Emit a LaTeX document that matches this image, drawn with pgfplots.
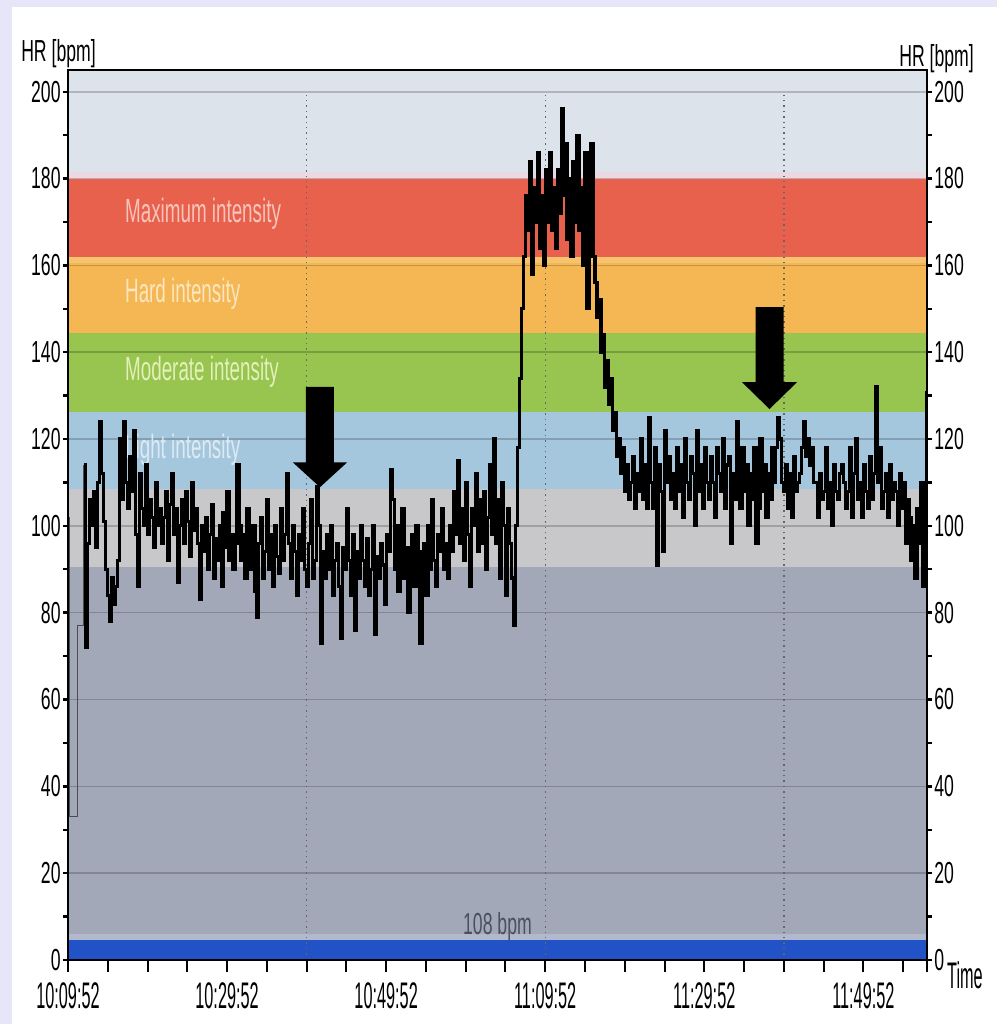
\documentclass[border=0pt]{standalone}
\usepackage{pgfplots}
\pgfplotsset{compat=1.18}
\usepackage{pgfplotstable}
\usepackage{fontspec}
\setmainfont{Liberation Sans}
\newfontfamily\ylabf{Liberation Sans}[FakeStretch=0.58]
\newfontfamily\xlabf{Liberation Sans}[FakeStretch=0.44]
\newfontfamily\zlabf{Liberation Sans}[FakeStretch=0.56]
\newcommand\ytf{\ylabf\fontsize{15.2}{16}\selectfont}
\newcommand\xtf{\xlabf\fontsize{18.5}{20}\selectfont}
\newcommand\ztf{\zlabf\fontsize{16.8}{18}\selectfont}

\definecolor{bglav}{RGB}{230,230,248}
\definecolor{zblue}{RGB}{33,82,198}
\definecolor{zblueb}{RGB}{178,185,204}
\definecolor{zbg}{RGB}{163,168,185}
\definecolor{zgrey}{RGB}{200,200,202}
\definecolor{zlight}{RGB}{164,199,222}
\definecolor{zgreen}{RGB}{152,196,80}
\definecolor{zorange}{RGB}{244,183,84}
\definecolor{zorangeb}{RGB}{246,196,110}
\definecolor{zred}{RGB}{232,97,77}
\definecolor{zpink}{RGB}{234,216,226}
\definecolor{ztop}{RGB}{221,227,234}
\definecolor{tred}{RGB}{248,196,188}
\definecolor{torange}{RGB}{251,230,192}
\definecolor{tgreen}{RGB}{226,240,186}
\definecolor{tlight}{RGB}{222,234,242}
\definecolor{tbpm}{RGB}{74,80,96}

\pgfplotstableread[row sep=\\]{hr\\
114\\72\\96\\106\\100\\108\\95\\110\\124\\112\\101\\90\\84\\78\\88\\82\\86\\92\\120\\106\\
124\\110\\104\\116\\108\\122\\98\\86\\112\\104\\100\\114\\98\\106\\102\\95\\110\\100\\104\\96\\
102\\108\\92\\105\\112\\98\\104\\87\\100\\106\\96\\108\\101\\93\\110\\99\\104\\96\\83\\100\\
94\\102\\90\\98\\105\\88\\97\\92\\100\\86\\103\\95\\108\\92\\98\\90\\96\\114\\100\\92\\
98\\88\\104\\94\\90\\100\\85\\79\\96\\102\\88\\94\\106\\90\\98\\86\\100\\93\\89\\104\\
92\\98\\112\\96\\88\\100\\94\\84\\98\\92\\104\\90\\86\\96\\106\\88\\92\\109\\100\\73\\
94\\88\\98\\90\\100\\84\\92\\96\\86\\74\\95\\90\\104\\92\\84\\98\\76\\94\\88\\100\\
92\\86\\97\\84\\90\\100\\75\\93\\88\\96\\91\\82\\98\\94\\113\\106\\90\\100\\85\\96\\
104\\88\\95\\80\\92\\98\\86\\100\\94\\73\\88\\96\\84\\100\\90\\106\\92\\86\\98\\94\\
104\\90\\96\\88\\100\\94\\108\\98\\115\\96\\104\\92\\110\\98\\86\\104\\100\\112\\94\\106\\
96\\108\\90\\102\\114\\98\\120\\96\\106\\88\\110\\100\\84\\104\\96\\88\\77\\100\\118\\134\\
150\\162\\176\\168\\184\\158\\178\\170\\186\\164\\176\\160\\182\\170\\186\\168\\178\\164\\182\\172\\
196\\176\\188\\166\\180\\162\\184\\170\\190\\168\\178\\160\\186\\150\\174\\188\\162\\156\\148\\152\\
140\\144\\132\\138\\128\\134\\122\\126\\116\\120\\112\\118\\108\\114\\106\\110\\116\\104\\112\\108\\
120\\106\\114\\104\\125\\110\\104\\118\\91\\114\\108\\94\\122\\110\\116\\106\\112\\104\\118\\108\\
114\\102\\120\\110\\106\\116\\112\\100\\122\\108\\114\\104\\118\\110\\106\\116\\110\\102\\118\\112\\
108\\120\\104\\114\\116\\96\\112\\106\\124\\110\\104\\118\\108\\114\\100\\112\\106\\118\\96\\104\\
120\\108\\114\\102\\112\\106\\118\\110\\118\\125\\120\\110\\108\\114\\104\\112\\102\\116\\108\\110\\
112\\118\\124\\116\\120\\114\\118\\110\\110\\102\\112\\106\\108\\118\\104\\110\\100\\114\\108\\106\\
112\\114\\110\\104\\108\\118\\102\\112\\120\\106\\110\\102\\114\\108\\104\\116\\106\\112\\132\\110\\
118\\104\\108\\112\\102\\114\\106\\110\\108\\100\\112\\104\\110\\96\\106\\102\\92\\100\\88\\104\\
96\\110\\86\\100\\131\\
}\hrdata

\pgfplotsset{
  common/.style={
    at={(34pt,32pt)}, anchor=south west,
    scale only axis, width=429.5pt, height=445pt,
    xmin=0, xmax=108, ymin=0, ymax=205,
  }
}

\begin{document}
\begin{tikzpicture}
\useasboundingbox (0,0) rectangle (498.5pt,512pt);
\fill[bglav] (0,0) rectangle (498.5pt,512pt);
\fill[white] (6pt,0) rectangle (498.5pt,508.5pt);

\begin{axis}[common,
  axis on top,
  axis line style={black, line width=0.8pt},
  xtick={0,20,...,100},
  xticklabels={10:09:52,10:29:52,10:49:52,11:09:52,11:29:52,11:49:52},
  minor xtick={5,10,...,105},
  extra x ticks={108}, extra x tick labels={},
  xtick pos=left, ytick=\empty,
  tick align=outside,
  major tick length=6pt, minor tick length=6pt,
  tick style={black, line width=1pt},
  xticklabel style={font=\xtf, inner sep=0pt, anchor=north, yshift=-5pt},
]
% zones
\fill[zblue] (axis cs:0,0) rectangle (axis cs:108,4.5);
\fill[zblueb] (axis cs:0,4.5) rectangle (axis cs:108,6);
\fill[zbg] (axis cs:0,6) rectangle (axis cs:108,90.5);
\fill[zgrey] (axis cs:0,90.5) rectangle (axis cs:108,108.5);
\fill[zlight] (axis cs:0,108.5) rectangle (axis cs:108,126.3);
\fill[zgreen] (axis cs:0,126.3) rectangle (axis cs:108,144.5);
\fill[zorange] (axis cs:0,144.5) rectangle (axis cs:108,160.5);
\fill[zorangeb] (axis cs:0,160.5) rectangle (axis cs:108,162);
\fill[zred] (axis cs:0,162) rectangle (axis cs:108,180);
\fill[zpink] (axis cs:0,180) rectangle (axis cs:108,181.5);
\fill[ztop] (axis cs:0,181.5) rectangle (axis cs:108,205);
% grid
\pgfplotsinvokeforeach{20,40,...,200}{
  \draw[black, opacity=0.2, line width=0.8pt] (axis cs:0,#1) -- (axis cs:108,#1);
}
\pgfplotsinvokeforeach{30,60,90}{
  \draw[black!60, dotted, line width=0.7pt] (axis cs:#1,0) -- (axis cs:#1,200);
}
% zone labels
\node[anchor=west, text=tred, font=\ztf] at (axis cs:6.3,171.9) {Maximum intensity};
\node[anchor=west, text=torange, font=\ztf] at (axis cs:6.3,153.4) {Hard intensity};
\node[anchor=west, text=tgreen, font=\ztf] at (axis cs:6.3,135.5) {Moderate intensity};
\node[anchor=west, text=tlight, font=\ztf] at (axis cs:6.3,117.6) {Light intensity};
\node[anchor=base, text=tbpm, font=\ytf, inner sep=0pt] at (axis cs:54,5.9) {108 bpm};
% heart rate
\addplot[const plot, black!70, line width=0.5pt] coordinates {
  (0,102) (0.15,33) (1.15,77) (2.0,114)
};
\addplot[const plot, black, line width=1.6pt]
  table[x expr=\coordindex*0.25+2, y=hr] {\hrdata};
% arrows
\fill[black] (axis cs:29.92,132) -- (axis cs:33.44,132) -- (axis cs:33.44,114.6)
  -- (axis cs:35.08,114.6) -- (axis cs:31.68,108.9) -- (axis cs:28.28,114.6)
  -- (axis cs:29.92,114.6) -- cycle;
\fill[black] (axis cs:86.44,150.4) -- (axis cs:89.96,150.4) -- (axis cs:89.96,133.1)
  -- (axis cs:91.66,133.1) -- (axis cs:88.2,126.9) -- (axis cs:84.74,133.1)
  -- (axis cs:86.44,133.1) -- cycle;
\end{axis}

\begin{axis}[common,
  axis line style={draw=none},
  xtick=\empty,
  ytick={0,20,...,200}, minor ytick={10,30,...,190},
  yticklabels={0,20,40,60,80,100,120,140,160,180,200},
  ytick pos=both, yticklabel pos=left,
  tick align=outside,
  major tick length=2.5pt, minor tick length=2.5pt,
  tick style={black, line width=1.2pt},
  yticklabel style={font=\ytf, inner sep=0pt, anchor=east, xshift=-1pt},
]
\end{axis}

\begin{axis}[common,
  axis line style={draw=none},
  xtick=\empty,
  ytick={0,20,...,200},
  yticklabels={0,20,40,60,80,100,120,140,160,180,200},
  ytick pos=right, yticklabel pos=right,
  major tick length=2.5pt, tick align=outside,
  tick style={draw=none},
  yticklabel style={font=\ytf, inner sep=0pt, anchor=west, xshift=1pt},
]
\end{axis}

\node[font=\ytf, anchor=base] at (29.25pt,481pt) {HR [bpm]};
\node[font=\ytf, anchor=base] at (468.25pt,478.5pt) {HR [bpm]};
\node[font=\xtf, anchor=base] at (482.5pt,17.5pt) {Time};
\end{tikzpicture}
\end{document}
